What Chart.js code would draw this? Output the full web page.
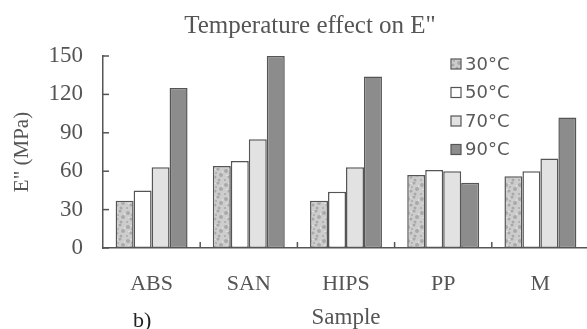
<!DOCTYPE html>
<html>
<head>
<meta charset="utf-8">
<script src="https://cdn.jsdelivr.net/npm/chart.js@4.4.1/dist/chart.umd.min.js"></script>
<style>
  html, body { margin: 0; padding: 0; background: #fff; overflow: hidden; }
  #wrap { width: 590px; height: 329px; }
</style>
</head>
<body>
<div id="wrap"><canvas id="chart" width="590" height="329"></canvas></div>
<script>
const samples = ['ABS', 'SAN', 'HIPS', 'PP', 'M']
const temps = ['30°C', '50°C', '70°C', '90°C']
const e30 = [37, 64, 37, 57, 56]
const e50 = [45, 68, 44, 61, 60]
const e70 = [63, 85, 63, 60, 70]
const e90 = [125, 150, 134, 51, 102]
const yTicks = [0, 30, 60, 90, 120, 150]

const serif = '"Liberation Serif", "DejaVu Serif", serif'
const textGrey = '#555'
const edge = '#555'

// mottled fill for the 30°C bars
function speckle(){
    let c = document.createElement('canvas')
    c.width = 14
    c.height = 14
    let g = c.getContext('2d')
    g.fillStyle = '#cdcdcd'
    g.fillRect(0, 0, 14, 14)
    g.fillStyle = '#a9a9a9'
    let dots = [[2,3,2],[8,1,1.5],[11,7,2],[5,9,1.5],[1,12,1],[9,12,1.5],[6,5,1]]
    dots.forEach(d => {
        g.beginPath()
        g.arc(d[0], d[1], d[2], 0, Math.PI * 2)
        g.fill()
    })
    g.fillStyle = '#e0e0e0'
    g.fillRect(4, 1, 2, 1)
    g.fillRect(12, 3, 1, 2)
    g.fillRect(2, 7, 2, 1)
    return g.createPattern(c, 'repeat')
}

const ctx = document.getElementById('chart').getContext('2d')
const fills = [speckle(), '#ffffff', '#e2e2e2', '#8c8c8c']
const series = [e30, e50, e70, e90]

// title, inward tick marks on both axes, the side legend and the panel tag
const extras = {
    id: 'extras',
    afterDraw(chart){
        const c = chart.ctx
        const x = chart.scales.x
        const y = chart.scales.y
        c.save()

        c.fillStyle = textGrey
        c.font = '25px ' + serif
        c.textAlign = 'center'
        c.textBaseline = 'middle'
        c.fillText('Temperature effect on E"', 310, 26)

        c.strokeStyle = edge
        c.lineWidth = 1.5
        for (let i = 1; i < samples.length; i++){
            let px = (x.getPixelForValue(i - 1) + x.getPixelForValue(i)) / 2
            c.beginPath()
            c.moveTo(px, y.bottom - 6)
            c.lineTo(px, y.bottom)
            c.stroke()
        }
        yTicks.forEach(v => {
            let py = y.getPixelForValue(v)
            c.beginPath()
            c.moveTo(x.left, py)
            c.lineTo(x.left + 6, py)
            c.stroke()
        })

        c.font = '18px "DejaVu Sans", sans-serif'
        c.textAlign = 'left'
        chart.data.datasets.forEach((ds, i) => {
            let cy = 64 + i * 28.5
            c.fillStyle = ds.backgroundColor
            c.fillRect(451, cy - 5, 10, 10)
            c.lineWidth = 1.2
            c.strokeRect(451, cy - 5, 10, 10)
            c.fillStyle = '#5a5a5a'
            c.fillText(ds.label, 465, cy + 1)
        })

        c.fillStyle = '#222'
        c.font = '22px ' + serif
        c.fillText('b)', 133, 321)
        c.restore()
    }
}

new Chart(ctx, {
    type: 'bar',
    data: {
        labels: samples,
        datasets: temps.map((t, i) => ({
            label: t,
            data: series[i],
            backgroundColor: fills[i],
            borderColor: edge,
            borderWidth: 1.5,
            borderSkipped: false,
            barPercentage: 1,
            categoryPercentage: 0.74
        }))
    },
    options: {
        responsive: false,
        animation: false,
        layout: { padding: { left: 0, right: 1, top: 56, bottom: 0 } },
        plugins: {
            legend: { display: false },
            tooltip: { enabled: false },
            title: { display: false }
        },
        scales: {
            x: {
                grid: { display: false, drawTicks: false },
                border: { display: true, color: edge, width: 1.5 },
                ticks: { color: textGrey, font: { family: serif, size: 22 }, padding: 23 },
                title: {
                    display: true,
                    text: 'Sample',
                    color: textGrey,
                    font: { family: serif, size: 23 },
                    padding: { top: 6, bottom: -3 }
                },
                afterFit: s => { s.height = 81 }
            },
            y: {
                min: 0,
                max: 150,
                afterBuildTicks: s => { s.ticks = yTicks.map(v => ({ value: v })) },
                grid: { display: false, drawTicks: false },
                border: { display: true, color: edge, width: 1.5 },
                ticks: { color: textGrey, font: { family: serif, size: 23 }, padding: 20 },
                title: {
                    display: true,
                    text: 'E" (MPa)',
                    color: textGrey,
                    font: { family: serif, size: 21 },
                    padding: { top: 10, bottom: 0 }
                },
                afterFit: s => { s.width = 103 }
            }
        }
    },
    plugins: [extras]
})
</script>
</body>
</html>
